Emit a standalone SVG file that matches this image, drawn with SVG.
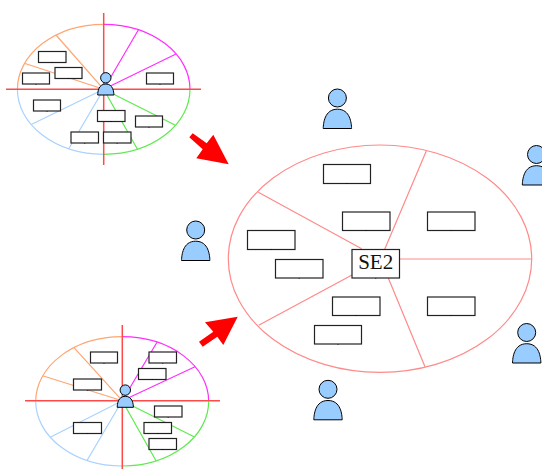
<svg xmlns="http://www.w3.org/2000/svg" width="542" height="470" viewBox="0 0 542 470">
<style>
.bg{fill:#fff}
.e{fill:none;stroke-width:1.2}
.big{stroke:#ff8a8a}
.o{stroke:#ffa573}.m{stroke:#ff2eff}.g{stroke:#5eea4e}.b{stroke:#a8d2ff}
.x{stroke:#ff4a4a;stroke-width:1.5;fill:none}
.box{fill:#fff;stroke:#222;stroke-width:1.2}
.tick{fill:none;stroke:#000;stroke-width:1.3}
.p{fill:#99ccff;stroke:#000;stroke-width:1}
.arrow{fill:#ff0000}
text{font-family:"Liberation Serif","Times New Roman",serif;font-size:21px;fill:#111;text-anchor:middle}
</style>
<defs>
<g id="person"><circle class="p" cx="0" cy="-30.5" r="9"/><path class="p" d="M-14.2 0C-14 -5 -13 -19.3 0 -19.3C13 -19.3 14 -5 14.2 0Z"/></g>
<g id="mini"><circle class="p" cx="0" cy="-17.2" r="5.2"/><path class="p" d="M-8.1 0C-8 -3 -7.4 -11 0 -11C7.4 -11 8 -3 8.1 0Z"/></g>
</defs>
<rect class="bg" width="542" height="470"/>
<g id="connectors">
<g id="top-sectors">
<path class="e o" d="M103.7 24.3A86.3 65 0 0 0 17.4 89.3M103.7 89.3L56 35M103.7 89.3L24.3 63.3"/>
<path class="e m" d="M103.7 24.3A86.3 65 0 0 1 190 89.3M103.7 89.3L138.3 30M103.7 89.3L176 54"/>
<path class="e g" d="M190 89.3A86.3 65 0 0 1 103.7 154.3M103.7 89.3L137.3 149M103.7 89.3L175 125"/>
<path class="e b" d="M103.7 154.3A86.3 65 0 0 1 17.4 89.3M103.7 89.3L31.7 124.3M103.7 89.3L69 148.3"/>
<path class="x" d="M103.7 13V165M6 89.3H201"/>
</g>
<g id="bottom-sectors">
<path class="e o" d="M122.2 336.7A86.5 64.7 0 0 0 35.7 401.3M122.2 400.7L74 347.7M122.2 400.7L43.3 376"/>
<path class="e m" d="M122.2 336.7A86.5 64.7 0 0 1 208.7 401.3M122.2 400.7L157.3 341.7M122.2 400.7L195 366.7"/>
<path class="e g" d="M208.7 401.3A86.5 64.7 0 0 1 122.2 466M122.2 400.7L156 460.7M122.2 400.7L194 436.7"/>
<path class="e b" d="M122.2 466A86.5 64.7 0 0 1 35.7 401.3M122.2 400.7L50.7 437M122.2 400.7L87.3 460"/>
<path class="x" d="M122.3 325V469M25 400.7H220"/>
</g>
<g id="big-sectors">
<ellipse class="e big" cx="380" cy="258.7" rx="151.7" ry="113.7"/>
<path class="e big" d="M426.3 151L384.7 249.3M258.3 192.3L361.7 248.7M258.7 325.3L352 275M425 366.7L388.3 278M531.7 259H400"/>
</g>
</g>
<g id="arrow-top"><polygon class="arrow" points="189.3,137.3 192.7,133.3 206.7,143.3 213.3,134.7 228.7,164.3 196.3,158.3 202.7,149.3"/></g>
<g id="arrow-bottom"><polygon class="arrow" points="199,341.7 202.7,346.7 217.3,336.7 223.3,345 237.7,316.7 205,322.3 213.3,331.7"/></g>
<g id="top-boxes">
<rect class="box" x="38.5" y="51.5" width="27.5" height="11"/>
<rect class="box" x="55" y="67.5" width="27" height="11"/>
<rect class="box" x="22.5" y="73" width="27" height="11"/>
<rect class="box" x="146.5" y="73" width="27" height="11"/>
<rect class="box" x="33.5" y="100" width="27" height="11"/>
<rect class="box" x="97.5" y="110.5" width="27.5" height="11"/>
<rect class="box" x="135.5" y="116" width="27" height="11"/>
<rect class="box" x="71" y="132" width="27.5" height="11"/>
<rect class="box" x="103.5" y="132" width="27.5" height="11"/>
<path class="tick" d="M52.2 62.5v.6M68.5 78.5v.6M36 84v.6M160 84v.6M47 111v.6M111.2 121.5v.6M149 127v.6M84.7 143v.6M117.2 143v.6"/>
</g>
<g id="top-person"><use href="#mini" x="105.8" y="95"/></g>
<g id="bottom-boxes">
<rect class="box" x="90.5" y="352" width="27" height="11"/>
<rect class="box" x="149" y="352" width="27.5" height="11"/>
<rect class="box" x="138.5" y="368.5" width="27.5" height="11"/>
<rect class="box" x="73.5" y="379" width="28" height="11"/>
<rect class="box" x="154.5" y="406" width="27.5" height="11"/>
<rect class="box" x="144" y="422.5" width="27.5" height="11"/>
<rect class="box" x="73.5" y="422.5" width="28" height="11"/>
<rect class="box" x="149" y="438.5" width="27.5" height="11"/>
<path class="tick" d="M104 363v.6M162.7 363v.6M152.2 379.5v.6M87.5 390v.6M168.2 417v.6M157.7 433.5v.6M87.5 433.5v.6M162.7 449.5v.6"/>
</g>
<g id="bottom-person"><use href="#mini" x="125.3" y="407.3"/></g>
<g id="big-boxes">
<rect class="box" x="323.5" y="164.5" width="47" height="19"/>
<rect class="box" x="342.5" y="212" width="47.5" height="18.5"/>
<rect class="box" x="427.5" y="212" width="47.5" height="18.5"/>
<rect class="box" x="247.5" y="230.5" width="47.5" height="19"/>
<rect class="box" x="275.5" y="259.5" width="47.5" height="18.5"/>
<rect class="box" x="332.5" y="297" width="47.5" height="18.5"/>
<rect class="box" x="427.5" y="297" width="47.5" height="18.5"/>
<rect class="box" x="314.5" y="325.5" width="47" height="18.5"/>
<path class="tick" d="M347 183.5v.6M366.2 230.5v.6M451.2 230.5v.6M271.2 249.5v.6M299.2 278v.6M356.2 315.5v.6M451.2 315.5v.6M338 344v.6"/>
</g>
<g id="se2"><rect class="box" x="352" y="249.5" width="47.5" height="28.5"/><path class="tick" d="M375.7 278v.6"/><text x="375.7" y="269.3">SE2</text></g>
<g id="person-1"><use href="#person" x="337.4" y="128.5"/></g>
<g id="person-2"><use href="#person" x="195.7" y="260.5"/></g>
<g id="person-3"><use href="#person" x="536.5" y="185"/></g>
<g id="person-4"><use href="#person" x="526.7" y="363"/></g>
<g id="person-5"><use href="#person" x="328" y="419.8"/></g>
</svg>
